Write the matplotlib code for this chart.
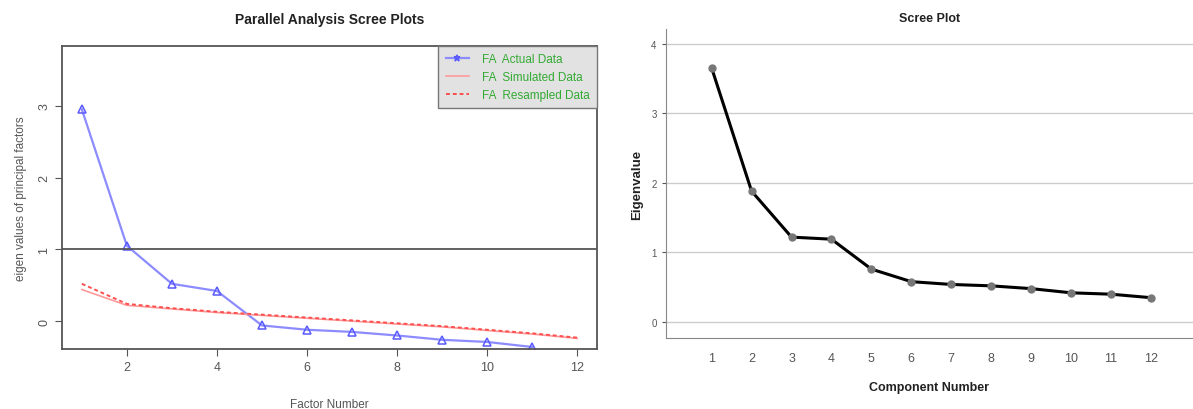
import numpy as np
import matplotlib.pyplot as plt

plt.rcParams['font.family'] = ['Liberation Sans', 'DejaVu Sans']

# left panel: parallel analysis
factors = list(range(1, 13))
actual = [2.95, 1.05, 0.52, 0.42, -0.06, -0.12, -0.15, -0.20, -0.26, -0.29, -0.36]
simulated = [0.44, 0.22, 0.17, 0.12, 0.08, 0.04, 0.00, -0.04, -0.08, -0.13, -0.18, -0.24]
resampled = [0.52, 0.24, 0.18, 0.13, 0.09, 0.05, 0.01, -0.03, -0.07, -0.12, -0.17, -0.23]

# right panel: SPSS scree plot
components = list(range(1, 13))
eigenvalues = [3.65, 1.88, 1.22, 1.19, 0.76, 0.58, 0.54, 0.52, 0.48, 0.42, 0.40, 0.35]

fig = plt.figure(figsize=(11.93, 4.10), dpi=100)

# ---- LEFT PLOT ----
ax1 = fig.add_axes([0.052, 0.146, 0.4484, 0.739])
ax1.plot(factors[:len(actual)], actual, color='#8c8cff', lw=1.6, marker='^',
         mfc='none', mec='#5a5aff', ms=6, mew=1.1, label='FA  Actual Data')
ax1.plot(factors, simulated, color='#ff9a9a', lw=1.2, label='FA  Simulated Data')
ax1.plot(factors, resampled, color='#ff5050', lw=1.4, ls=(0, (2, 1.5)), label='FA  Resampled Data')
ax1.axhline(1, color='#555555', lw=1.3)
ax1.set_xlim(0.56, 12.44)
ax1.set_ylim(-0.39, 3.83)
ax1.set_xticks([2, 4, 6, 8, 10, 12])
ax1.set_yticks([0, 1, 2, 3])
ax1.tick_params(axis='both', colors='#555555', labelsize=9, length=5)
for lbl in ax1.get_yticklabels():
    lbl.set_rotation(90)
    lbl.set_va('center')
for s in ax1.spines.values():
    s.set_color('#555555')
    s.set_linewidth(1.3)
ax1.set_title('Parallel Analysis Scree Plots', fontsize=10, fontweight='bold', color='#222222', pad=17)
ax1.set_xlabel('Factor Number', fontsize=8.5, color='#555555', labelpad=18)
ax1.set_ylabel('eigen values of principal factors', fontsize=8.5, color='#555555', labelpad=8)
leg = ax1.legend(loc='upper right', fontsize=8.5, frameon=True, fancybox=False,
                 facecolor='#e2e2e2', edgecolor='#777777', framealpha=1,
                 borderaxespad=0, handlelength=2.0, labelspacing=0.5,
                 borderpad=0.6, handletextpad=1.1)
for t in leg.get_texts():
    t.set_color('#33aa33')
leg.get_lines()[0].set_marker('*')
leg.get_lines()[0].set_markersize(5)

# ---- RIGHT PLOT ----
ax2 = fig.add_axes([0.558, 0.173, 0.442, 0.754])
ax2.plot(components, eigenvalues, color='black', lw=2.2, marker='o', ms=5,
         mfc='#777777', mec='#777777', zorder=3)
ax2.set_xlim(-0.15, 13.05)
ax2.set_ylim(-0.23, 4.21)
ax2.set_xticks(components)
ax2.set_yticks([0, 1, 2, 3, 4])
ax2.grid(axis='y', color='#cccccc', lw=1)
ax2.set_axisbelow(True)
ax2.spines['top'].set_visible(False)
ax2.spines['right'].set_visible(False)
ax2.spines['left'].set_color('#888888')
ax2.spines['bottom'].set_color('#888888')
ax2.tick_params(axis='y', colors='#555555', labelsize=7, length=3)
ax2.tick_params(axis='x', colors='#555555', labelsize=9, length=0, pad=10)
ax2.set_title('Scree Plot', fontsize=9, fontweight='bold', color='#222222', pad=6)
ax2.set_xlabel('Component Number', fontsize=9, fontweight='bold', color='#222222', labelpad=12)
ax2.set_ylabel('Eigenvalue', fontsize=9.5, fontweight='bold', color='#222222', labelpad=6)

fig.savefig('out.png', dpi=100)
